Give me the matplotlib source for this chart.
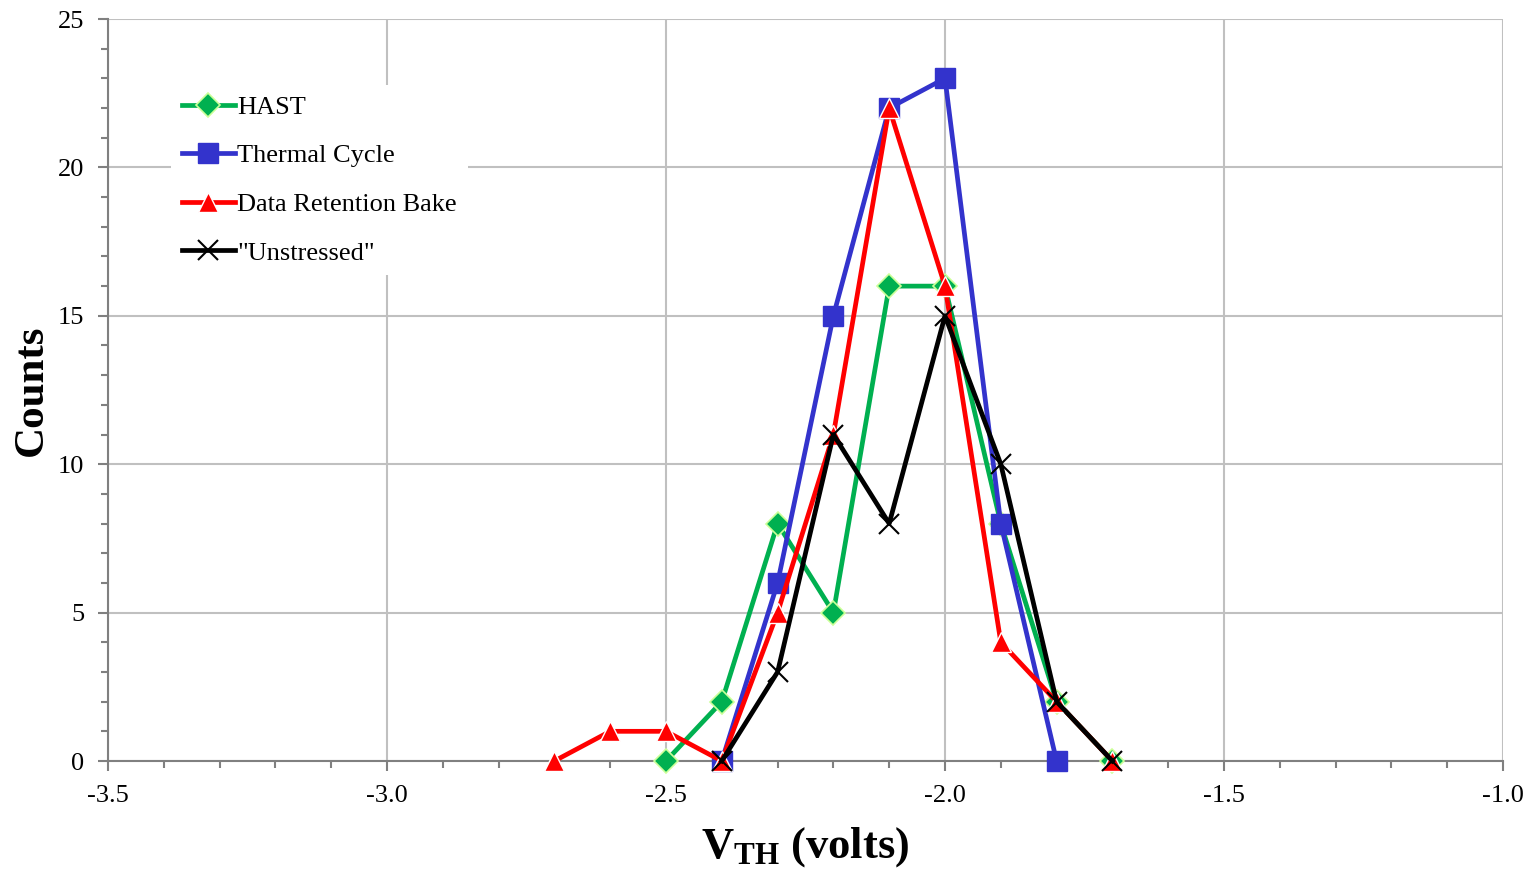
import matplotlib
matplotlib.use('Agg')
import matplotlib.pyplot as plt
from matplotlib.ticker import MultipleLocator, FormatStrFormatter

plt.rcParams['font.family'] = ['Liberation Serif', 'DejaVu Serif']
plt.rcParams['mathtext.fontset'] = 'custom'
plt.rcParams['mathtext.rm'] = 'Liberation Serif'
plt.rcParams['mathtext.bf'] = 'Liberation Serif:bold'

# data
hast_x = [-2.5, -2.4, -2.3, -2.2, -2.1, -2.0, -1.9, -1.8, -1.7]
hast_y = [0, 2, 8, 5, 16, 16, 8, 2, 0]

tc_x = [-2.4, -2.3, -2.2, -2.1, -2.0, -1.9, -1.8]
tc_y = [0, 6, 15, 22, 23, 8, 0]

drb_x = [-2.7, -2.6, -2.5, -2.4, -2.3, -2.2, -2.1, -2.0, -1.9, -1.8, -1.7]
drb_y = [0, 1, 1, 0, 5, 11, 22, 16, 4, 2, 0]

uns_x = [-2.4, -2.3, -2.2, -2.1, -2.0, -1.9, -1.8, -1.7]
uns_y = [0, 3, 11, 8, 15, 10, 2, 0]

fig = plt.figure(figsize=(15.32, 8.72), dpi=100)
ax = fig.add_axes([108 / 1532, 1 - 761 / 872, (1503 - 108) / 1532, (761 - 19) / 872])

ax.plot(hast_x, hast_y, color='#00B050', lw=3.4, marker='D', ms=12,
        mfc='#00B050', mec='#CCFF99', mew=1.2, label='HAST', clip_on=False, zorder=3)
ax.plot(tc_x, tc_y, color='#3333CC', lw=3.4, marker='s', ms=14,
        mfc='#3333CC', mec='#3333CC', label='Thermal Cycle', clip_on=False, zorder=4)
ax.plot(drb_x, drb_y, color='#FF0000', lw=3.4, marker='^', ms=14,
        mfc='#FF0000', mec='white', mew=1, label='Data Retention Bake', clip_on=False, zorder=5)
ax.plot(uns_x, uns_y, color='black', lw=3.4, marker='x', ms=14, mew=1.5,
        label='"Unstressed"', clip_on=False, zorder=6)

ax.set_xlim(-3.5, -1.0)
ax.set_ylim(0, 25)
ax.xaxis.set_major_locator(MultipleLocator(0.5))
ax.xaxis.set_minor_locator(MultipleLocator(0.1))
ax.yaxis.set_major_locator(MultipleLocator(5))
ax.yaxis.set_minor_locator(MultipleLocator(1))
ax.xaxis.set_major_formatter(FormatStrFormatter('%.1f'))

ax.grid(True, which='major', color='#C0C0C0', lw=1.5, zorder=0)
ax.set_axisbelow(True)
for s in ['top', 'right']:
    ax.spines[s].set_visible(False)
for s in ['left', 'bottom']:
    ax.spines[s].set_color('#808080')
    ax.spines[s].set_linewidth(1.5)

ax.tick_params(axis='both', which='major', direction='out', length=7, width=1.5,
               color='#808080', labelsize=19, pad=10)
ax.tick_params(axis='both', which='minor', direction='out', length=5, width=1.5,
               color='#808080')

ax.set_xlabel(r'$\mathbf{V_{TH}}$ (volts)', fontsize=32, fontweight='bold', labelpad=13)
ax.set_ylabel('Counts', fontsize=31, fontweight='bold', labelpad=5)

leg = ax.legend(loc='upper left', bbox_to_anchor=(0.036, 0.929), fontsize=19,
                frameon=True, framealpha=1, edgecolor='none', facecolor='white',
                fancybox=False, handlelength=2.0, handletextpad=0.1,
                labelspacing=0.95, borderpad=0.4)

fig.savefig('out.png', dpi=100)
